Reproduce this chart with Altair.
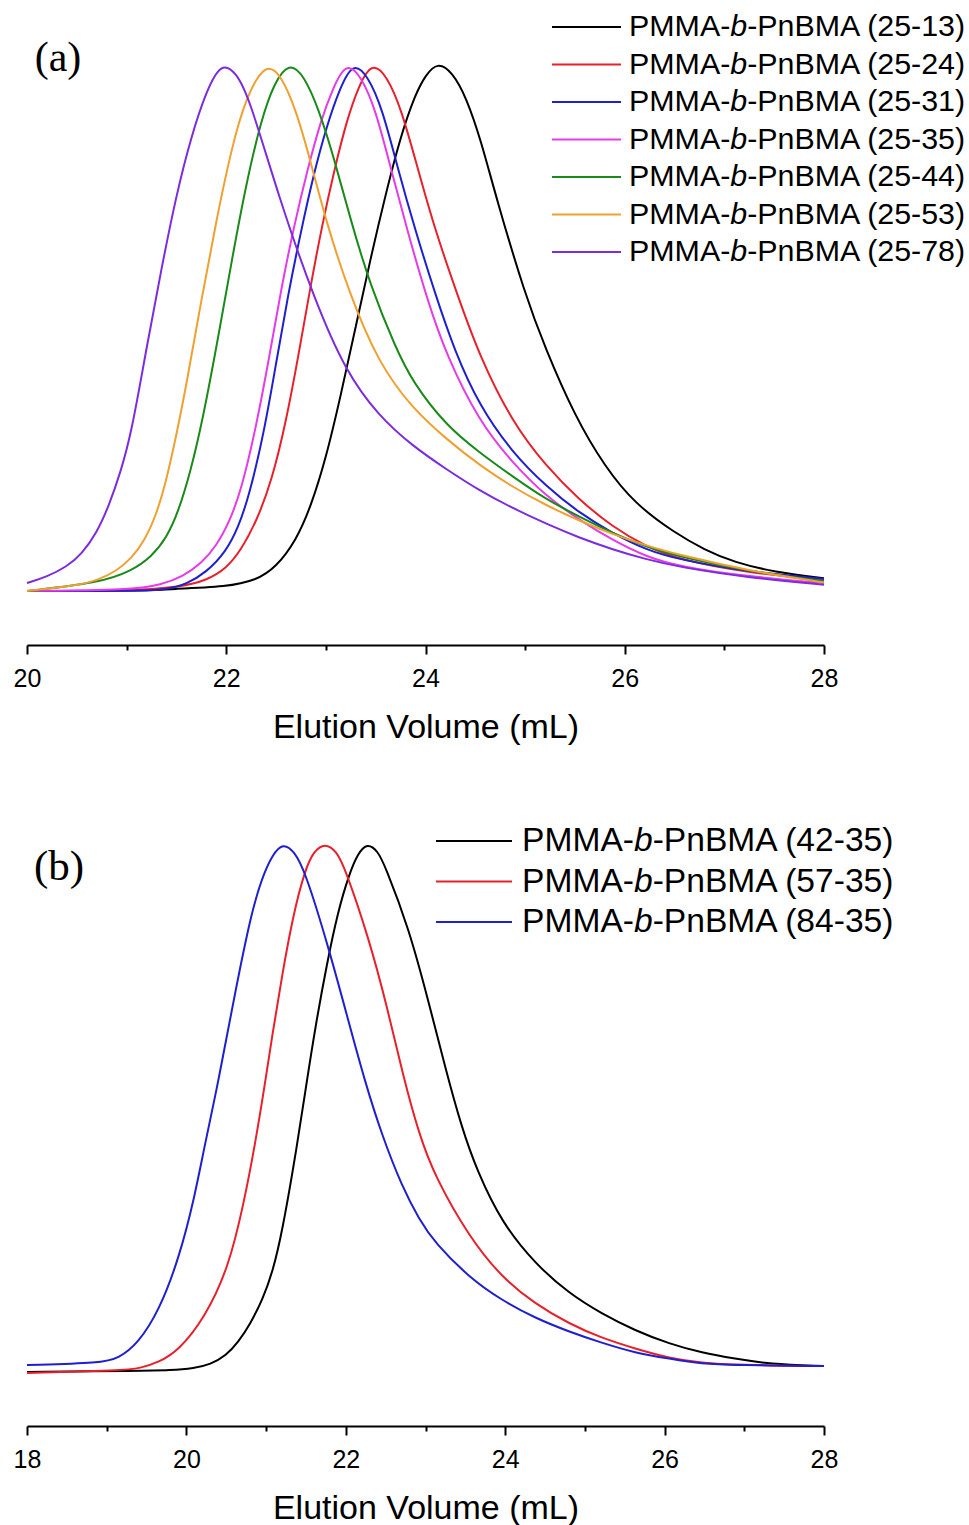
import altair as alt
import pandas as pd

# ---------------- Panel (a) data ----------------
a_tags = ["(25-13)", "(25-24)", "(25-31)", "(25-35)", "(25-44)", "(25-53)", "(25-78)"]
a_colors = ["#000000", "#e8202a", "#1f1fd0", "#e63be6", "#1a8a1a", "#f0a030", "#7b2be0"]

a_2513_v = [20.0, 21.0, 21.5, 22.0, 22.3, 22.5, 22.7, 22.85, 23.0, 23.15, 23.3, 23.45, 23.6, 23.75, 23.9, 24.0, 24.12, 24.27, 24.41, 24.56, 24.71, 25.0, 25.2, 25.5, 25.8, 26.1, 26.5, 26.8, 27.1, 27.5, 28.0]
a_2513_i = [0.0, 0.0, 0.004, 0.008, 0.02, 0.045, 0.095, 0.16, 0.25, 0.37, 0.5, 0.63, 0.75, 0.86, 0.94, 0.975, 1.0, 0.981, 0.933, 0.85, 0.743, 0.56, 0.46, 0.33, 0.235, 0.165, 0.11, 0.078, 0.054, 0.036, 0.024]

a_2524_v = [20.0, 21.0, 21.56, 21.8, 22.0, 22.15, 22.3, 22.46, 22.6, 22.72, 22.84, 22.96, 23.09, 23.21, 23.33, 23.46, 23.61, 23.76, 23.92, 24.1, 24.32, 24.54, 24.87, 25.21, 25.54, 25.87, 26.21, 26.55, 27.25, 28.0]
a_2524_i = [0.0, 0.0, 0.008, 0.02, 0.042, 0.078, 0.13, 0.21, 0.32, 0.44, 0.57, 0.69, 0.8, 0.89, 0.955, 1.0, 0.975, 0.91, 0.8, 0.68, 0.56, 0.445, 0.319, 0.236, 0.173, 0.122, 0.084, 0.059, 0.034, 0.021]

a_2531_v = [20.0, 21.0, 21.4, 21.6, 21.8, 22.0, 22.12, 22.23, 22.38, 22.5, 22.62, 22.75, 22.88, 23.01, 23.14, 23.27, 23.42, 23.57, 23.72, 23.9, 24.1, 24.29, 24.54, 24.87, 25.21, 25.54, 25.87, 26.21, 26.55, 27.25, 28.0]
a_2531_i = [0.0, 0.0, 0.002, 0.013, 0.035, 0.075, 0.12, 0.18, 0.3, 0.43, 0.56, 0.68, 0.79, 0.88, 0.95, 1.0, 0.975, 0.91, 0.8, 0.68, 0.56, 0.455, 0.35, 0.262, 0.198, 0.148, 0.11, 0.078, 0.059, 0.036, 0.023]

a_2535_v = [20.0, 21.05, 21.35, 21.56, 21.75, 21.9, 22.03, 22.15, 22.3, 22.43, 22.55, 22.68, 22.82, 22.95, 23.07, 23.2, 23.35, 23.5, 23.65, 23.82, 24.01, 24.21, 24.54, 24.87, 25.21, 25.54, 25.87, 26.21, 26.55, 27.25, 28.0]
a_2535_i = [0.0, 0.002, 0.012, 0.027, 0.052, 0.085, 0.13, 0.19, 0.31, 0.44, 0.57, 0.69, 0.8, 0.89, 0.95, 1.0, 0.975, 0.91, 0.8, 0.68, 0.555, 0.445, 0.32, 0.243, 0.179, 0.135, 0.097, 0.065, 0.046, 0.027, 0.015]

a_2544_v = [20.0, 20.72, 21.05, 21.25, 21.4, 21.52, 21.64, 21.76, 21.92, 22.06, 22.2, 22.35, 22.48, 22.63, 22.78, 22.93, 23.08, 23.25, 23.45, 23.7, 23.87, 24.21, 24.54, 24.87, 25.21, 25.54, 25.87, 26.21, 26.55, 27.25, 28.0]
a_2544_i = [0.0, 0.015, 0.038, 0.065, 0.1, 0.15, 0.225, 0.32, 0.48, 0.63, 0.77, 0.89, 0.96, 1.0, 0.975, 0.91, 0.82, 0.7, 0.575, 0.46, 0.395, 0.312, 0.262, 0.217, 0.173, 0.141, 0.11, 0.084, 0.065, 0.036, 0.019]

a_2553_v = [20.0, 20.5, 20.72, 20.9, 21.05, 21.18, 21.3, 21.4, 21.5, 21.6, 21.75, 21.9, 22.05, 22.2, 22.4, 22.55, 22.7, 22.85, 23.0, 23.23, 23.53, 23.87, 24.21, 24.54, 24.87, 25.21, 25.54, 25.87, 26.21, 26.55, 27.25, 28.0]
a_2553_i = [0.0, 0.01, 0.021, 0.038, 0.062, 0.095, 0.145, 0.21, 0.295, 0.39, 0.55, 0.7, 0.835, 0.935, 1.0, 0.975, 0.91, 0.81, 0.7, 0.565, 0.43, 0.345, 0.287, 0.238, 0.197, 0.162, 0.133, 0.108, 0.086, 0.068, 0.038, 0.016]

a_2578_v = [20.0, 20.2, 20.4, 20.55, 20.7, 20.82, 20.94, 21.05, 21.2, 21.35, 21.5, 21.65, 21.8, 21.95, 22.1, 22.23, 22.53, 22.88, 23.2, 23.53, 23.87, 24.21, 24.54, 24.87, 25.21, 25.54, 25.87, 26.21, 26.55, 27.25, 28.0]
a_2578_i = [0.015, 0.027, 0.046, 0.07, 0.11, 0.16, 0.225, 0.3, 0.46, 0.61, 0.75, 0.86, 0.945, 1.0, 0.98, 0.933, 0.743, 0.553, 0.414, 0.331, 0.274, 0.23, 0.19, 0.157, 0.127, 0.101, 0.079, 0.06, 0.045, 0.025, 0.012]

# ---------------- Panel (b) data ----------------
b_tags = ["(42-35)", "(57-35)", "(84-35)"]
b_colors = ["#000000", "#e8202a", "#1f1fd0"]

b_4235_v = [18.0, 19.42, 19.8, 20.1, 20.3, 20.5, 20.65, 20.8, 20.96, 21.08, 21.2, 21.39, 21.5, 21.62, 21.76, 21.9, 22.04, 22.15, 22.27, 22.4, 22.49, 22.79, 23.04, 23.25, 23.45, 23.65, 23.96, 24.37, 24.8, 25.21, 25.63, 26.06, 26.47, 26.88, 27.31, 28.0]
b_4235_i = [0.002, 0.004, 0.005, 0.009, 0.016, 0.033, 0.058, 0.092, 0.14, 0.19, 0.264, 0.43, 0.54, 0.655, 0.77, 0.87, 0.94, 0.98, 1.0, 0.985, 0.958, 0.84, 0.7, 0.575, 0.465, 0.38, 0.283, 0.207, 0.15, 0.112, 0.08, 0.055, 0.038, 0.027, 0.017, 0.013]

b_5735_v = [18.0, 19.2, 19.42, 19.65, 19.9, 20.23, 20.53, 20.72, 20.86, 20.98, 21.08, 21.2, 21.34, 21.49, 21.6, 21.74, 21.88, 21.99, 22.29, 22.52, 22.72, 22.92, 23.12, 23.55, 23.96, 24.37, 24.8, 25.21, 25.63, 26.06, 26.47, 26.88, 28.0]
b_5735_i = [0.0, 0.005, 0.009, 0.02, 0.042, 0.104, 0.199, 0.32, 0.43, 0.54, 0.64, 0.75, 0.865, 0.95, 0.985, 1.0, 0.985, 0.953, 0.82, 0.69, 0.56, 0.45, 0.37, 0.256, 0.18, 0.131, 0.093, 0.066, 0.046, 0.028, 0.019, 0.015, 0.013]

b_8435_v = [18.0, 18.94, 19.15, 19.39, 19.66, 19.91, 20.1, 20.23, 20.38, 20.5, 20.66, 20.82, 20.95, 21.08, 21.21, 21.35, 21.49, 21.79, 22.04, 22.24, 22.45, 22.71, 22.92, 23.12, 23.55, 23.96, 24.37, 24.8, 25.21, 25.63, 26.06, 26.47, 26.88, 28.0]
b_8435_i = [0.015, 0.019, 0.028, 0.055, 0.118, 0.218, 0.33, 0.43, 0.535, 0.63, 0.755, 0.87, 0.935, 0.978, 1.0, 0.985, 0.947, 0.8, 0.66, 0.55, 0.45, 0.35, 0.29, 0.245, 0.18, 0.137, 0.104, 0.078, 0.057, 0.038, 0.027, 0.017, 0.015, 0.013]

a_ticks = [20, 21, 22, 23, 24, 25, 26, 27, 28]
b_ticks = [18, 19, 20, 21, 22, 23, 24, 25, 26, 27, 28]

PREFIX = "PMMA-"
ITAL = "b"
MID = "-PnBMA "
SANS = "Liberation Sans, Arial, sans-serif"
SERIF = "Liberation Serif, Times New Roman, serif"


def long_df(tags, vs, ins):
    rows = []
    for t, v, i in zip(tags, vs, ins):
        name = PREFIX + ITAL + MID + t
        for x, y in zip(v, i):
            rows.append({"series": name, "vol": x, "sig": y})
    return pd.DataFrame(rows)


def panel(df, tags, colors, xdom, ydom, ticks, letter, letter_xy, letter_fs,
          leg_x0, leg_x1, leg_text_x, leg_y0, leg_dy, leg_fs):
    names = [PREFIX + ITAL + MID + t for t in tags]
    axis = alt.Axis(
        values=ticks,
        labelExpr="datum.value % 2 == 0 ? datum.label : ''",
        title="Elution Volume (mL)",
        grid=False,
        domainColor="black", domainWidth=2,
        tickColor="black", tickWidth=2,
        tickSize={"condition": {"test": "datum.value % 2 == 0", "value": 9}, "value": 5},
        labelFont=SANS, labelFontSize=25, labelColor="black",
        labelPadding=12, labelFlush=False, labelOverlap=False,
        titleFont=SANS, titleFontSize=34, titleFontWeight="normal",
        titleColor="black", titlePadding=19,
    )
    lines = alt.Chart(df).mark_line(interpolate="basis", strokeWidth=2).encode(
        x=alt.X("vol:Q", scale=alt.Scale(domain=xdom, nice=False, zero=False), axis=axis),
        y=alt.Y("sig:Q", scale=alt.Scale(domain=ydom, nice=False, zero=False), axis=None),
        color=alt.Color("series:N", scale=alt.Scale(domain=names, range=colors), legend=None),
    )
    one = alt.Data(values=[{"k": 0}])
    layers = [lines]
    layers.append(
        alt.Chart(one).mark_text(text=letter, font=SERIF, fontSize=letter_fs,
                                 align="center", baseline="alphabetic", color="black")
        .encode(x=alt.value(letter_xy[0]), y=alt.value(letter_xy[1]))
    )
    xb = leg_text_x + 3.333 * leg_fs
    for k, (t, c) in enumerate(zip(tags, colors)):
        yy = leg_y0 + k * leg_dy
        layers.append(
            alt.Chart(one).mark_rule(color=c, strokeWidth=2)
            .encode(x=alt.value(leg_x0), x2=alt.value(leg_x1), y=alt.value(yy))
        )
        layers.append(
            alt.Chart(one).mark_text(text=PREFIX, font=SANS, fontSize=leg_fs, align="right",
                                     baseline="middle", color="black")
            .encode(x=alt.value(xb), y=alt.value(yy))
        )
        layers.append(
            alt.Chart(one).mark_text(text=ITAL, font=SANS, fontSize=leg_fs, fontStyle="italic",
                                     align="left", baseline="middle", color="black")
            .encode(x=alt.value(xb), y=alt.value(yy))
        )
        layers.append(
            alt.Chart(one).mark_text(text=MID.strip() + " " + t, font=SANS, fontSize=leg_fs,
                                     align="left", baseline="middle", color="black")
            .encode(x=alt.value(xb + 0.556 * leg_fs), y=alt.value(yy))
        )
    return alt.layer(*layers).properties(width=797, height=635)


df_a = long_df(a_tags,
               [a_2513_v, a_2524_v, a_2531_v, a_2535_v, a_2544_v, a_2553_v, a_2578_v],
               [a_2513_i, a_2524_i, a_2531_i, a_2535_i, a_2544_i, a_2553_i, a_2578_i])
df_b = long_df(b_tags, [b_4235_v, b_5735_v, b_8435_v], [b_4235_i, b_5735_i, b_8435_i])

pa = panel(df_a, a_tags, a_colors, [20, 28], [-0.1021, 1.0983], a_ticks,
           "(a)", (31, 61), 42, 525, 594, 602, 17, 37.5, 30.4)
pb = panel(df_b, b_tags, b_colors, [18, 28], [-0.1, 1.0981], b_ticks,
           "(b)", (32, 89), 43, 409, 485, 495, 50, 40.5, 33.6)

chart = alt.vconcat(pa, pb, spacing=47).properties(
    padding={"left": 13, "top": 10, "right": 2, "bottom": 0},
    background="white",
).configure_view(stroke=None)

chart.save("out.html", embed_options={"renderer": "svg", "actions": False})
